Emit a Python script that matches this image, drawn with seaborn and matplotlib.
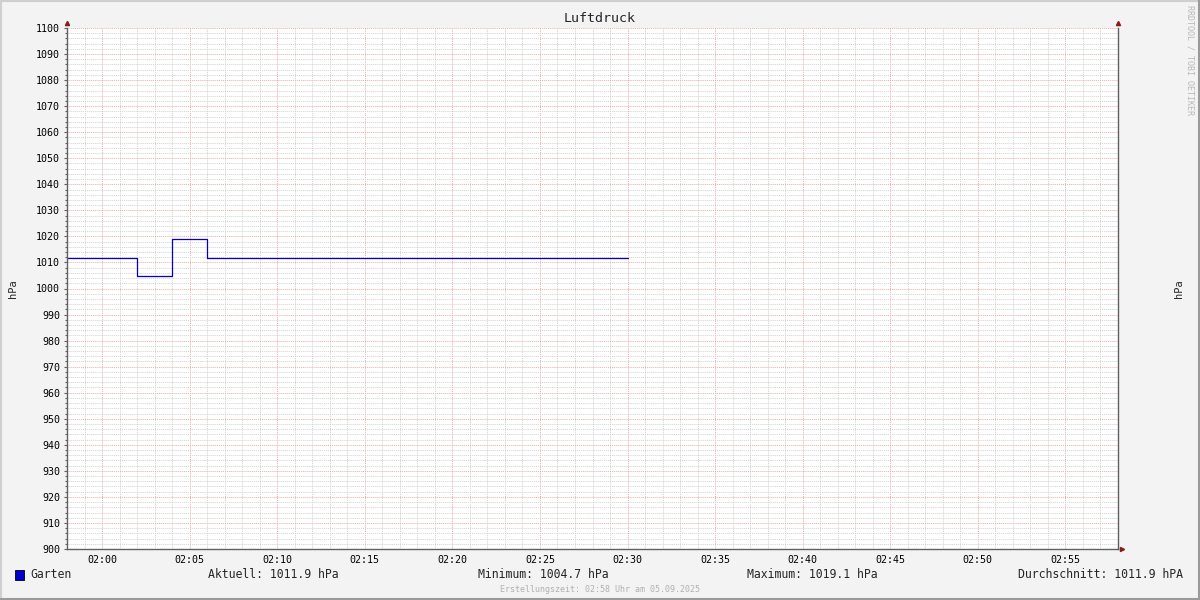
import numpy as np
import pandas as pd
import matplotlib
matplotlib.use("Agg")
import matplotlib.pyplot as plt
import matplotlib.dates as mdates
from matplotlib.patches import Rectangle
from matplotlib.ticker import MultipleLocator
import seaborn as sns

# ---- data ----
title = "Luftdruck"
series_name = "Garten"
unit = "hPa"
times = ["2025-09-05 01:58", "2025-09-05 02:02", "2025-09-05 02:04",
         "2025-09-05 02:06", "2025-09-05 02:30"]
values = [1011.9, 1004.7, 1019.1, 1011.9, 1011.9]
x_start = "2025-09-05 01:58"
x_end = "2025-09-05 02:58"
y_min, y_max = 900, 1100
footer = "Erstellungszeit: 02:58 Uhr am 05.09.2025"
watermark = "RRDTOOL / TOBI OETIKER"

df = pd.DataFrame({"time": pd.to_datetime(times), "value": values})

# time-weighted summary
t = df["time"].values.astype("datetime64[s]").astype(np.int64)
dur = np.diff(t)
cur = values[-1]
vmin = min(values)
vmax = max(values)
avg = float(np.sum(np.array(values[:-1]) * dur) / np.sum(dur))

sns.set_theme(style="white")
plt.rcParams["font.family"] = ["DejaVu Sans Mono"]

W, H = 1200, 600
fig = plt.figure(figsize=(12, 6), dpi=100, facecolor="#f3f3f3")
L, R, T, B = 67, 1118, 28, 549
ax = fig.add_axes([L / W, 1 - B / H, (R - L) / W, (B - T) / H])
ax.set_facecolor("white")

sns.lineplot(data=df, x="time", y="value", ax=ax, color="#0000cc",
             linewidth=0.9, drawstyle="steps-post", legend=False)

ax.set_xlim(pd.Timestamp(x_start), pd.Timestamp(x_end))
ax.set_ylim(y_min, y_max)

ax.xaxis.set_major_locator(mdates.MinuteLocator(byminute=range(0, 60, 5)))
ax.xaxis.set_minor_locator(mdates.MinuteLocator())
ax.xaxis.set_major_formatter(mdates.DateFormatter("%H:%M"))
ax.yaxis.set_major_locator(MultipleLocator(10))
ax.yaxis.set_minor_locator(MultipleLocator(2))

ax.grid(which="minor", color="#d2d2d2", linestyle=(0, (1, 1)), linewidth=0.7)
ax.grid(which="major", color="#eeaaaa", linestyle=(0, (1, 1)), linewidth=0.7)
ax.set_axisbelow(True)

ax.spines["top"].set_visible(False)
for s in ["left", "bottom", "right"]:
    ax.spines[s].set_color("#606060")
    ax.spines[s].set_linewidth(1.0)

ax.tick_params(axis="both", which="both", direction="out", colors="#606060",
               labelcolor="black", labelsize=7.2, width=0.8)
ax.tick_params(axis="both", which="major", length=2.5, pad=2.5)
ax.tick_params(axis="both", which="minor", length=1.5)
ax.tick_params(axis="y", which="both", left=True, right=True,
               labelleft=True, labelright=True)
ax.tick_params(axis="x", which="major", pad=2)

ax.set_xlabel("")
ax.set_ylabel(unit, fontsize=7.5, labelpad=13)
ax2 = ax.twinx()
ax2.set_ylim(y_min, y_max)
ax2.set_yticks([])
for s in ax2.spines.values():
    s.set_visible(False)
ax2.set_ylabel(unit, fontsize=7.5, labelpad=40)

# arrows
arr = "#8b1a1a"
ax.plot([0], [1.01], marker="^", markersize=3, color=arr,
        transform=ax.transAxes, clip_on=False)
ax.plot([1], [1.01], marker="^", markersize=3, color=arr,
        transform=ax.transAxes, clip_on=False)
ax.plot([1.004], [0], marker=">", markersize=3, color=arr,
        transform=ax.transAxes, clip_on=False)

# title
fig.text(600 / W, 1 - 19 / H, title, ha="center", va="center", fontsize=9.6)

# legend / summary line
ly = 1 - 575 / H
fig.patches.append(Rectangle((15 / W, 1 - 580 / H), 9 / W, 10 / H,
                             transform=fig.transFigure, facecolor="#0000cc",
                             edgecolor="black", linewidth=0.6))
fig.text(30 / W, ly, series_name, ha="left", va="center", fontsize=8.3)
fig.text(208 / W, ly, f"Aktuell: {cur:.1f} {unit}", ha="left", va="center", fontsize=8.3)
fig.text(478 / W, ly, f"Minimum: {vmin:.1f} {unit}", ha="left", va="center", fontsize=8.3)
fig.text(747 / W, ly, f"Maximum: {vmax:.1f} {unit}", ha="left", va="center", fontsize=8.3)
fig.text(1183 / W, ly, f"Durchschnitt: {avg:.1f} hPA", ha="right", va="center", fontsize=8.3)

fig.text(600 / W, 1 - 589 / H, footer, ha="center", va="center",
         fontsize=6, color="#b0b0b0")
fig.text(1190 / W, 1 - 60 / H, watermark, ha="center", va="center",
         fontsize=6, color="#b8b8b8", rotation=270)

# bevelled border
fig.patches.append(Rectangle((0, 0), 1, 1, transform=fig.transFigure,
                             fill=False, edgecolor="#cfcfcf", linewidth=3))
fig.patches.append(Rectangle((0, 0), 1, 2.5 / H, transform=fig.transFigure,
                             facecolor="#9a9a9a", edgecolor="none"))
fig.patches.append(Rectangle((1 - 2.5 / W, 0), 2.5 / W, 1, transform=fig.transFigure,
                             facecolor="#9a9a9a", edgecolor="none"))

fig.savefig("out.png", dpi=100, facecolor=fig.get_facecolor())
